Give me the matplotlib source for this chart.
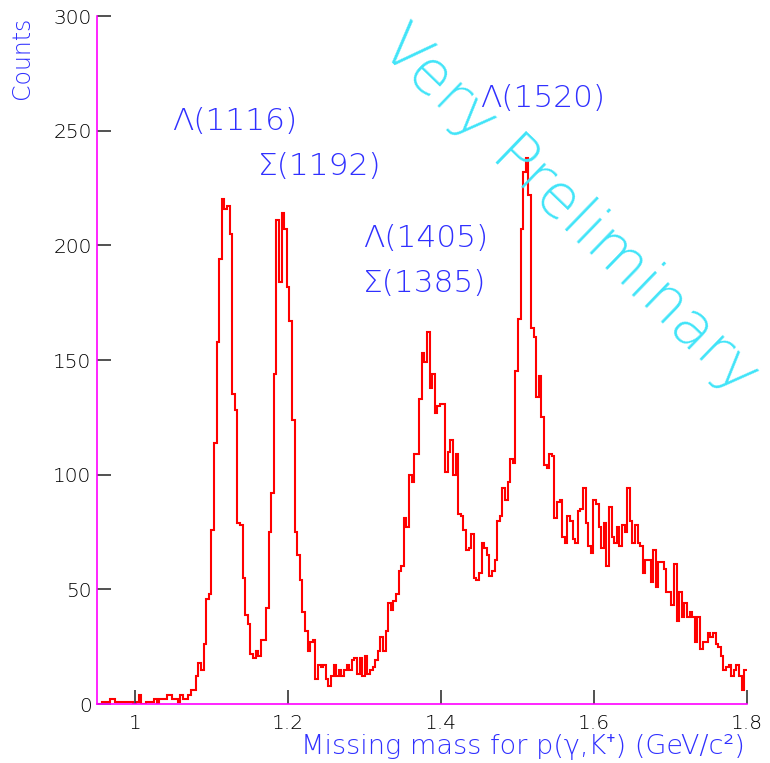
import numpy as np
import matplotlib
matplotlib.use('Agg')
import matplotlib.pyplot as plt

# missing mass histogram, 250 bins from 0.95 to 1.80 GeV
x_lo = 0.95
x_hi = 1.80
counts = [0, 0, 1, 1, 1, 2, 2, 1, 1, 1, 1, 1, 1, 1, 0, 1, 4, 0, 0, 1,
          1, 1, 2, 0, 2, 2, 2, 4, 4, 2, 2, 1, 4, 2, 2, 4, 6, 6, 12, 18,
          15, 26, 46, 48, 76, 114, 158, 194, 220, 216, 217, 205, 135, 128, 79, 78, 55, 39, 35, 22,
          20, 23, 21, 28, 28, 42, 75, 92, 144, 211, 184, 214, 207, 182, 167, 124, 75, 65, 54, 40,
          32, 23, 27, 28, 11, 17, 16, 17, 11, 8, 12, 17, 12, 15, 12, 15, 17, 15, 19, 20,
          13, 20, 12, 21, 13, 15, 16, 19, 23, 29, 23, 32, 44, 41, 45, 48, 58, 60, 81, 77,
          100, 97, 109, 109, 133, 153, 149, 162, 138, 144, 127, 130, 131, 131, 101, 110, 115, 100, 109, 83,
          82, 76, 67, 68, 74, 55, 54, 57, 70, 68, 65, 56, 58, 63, 80, 82, 94, 89, 97, 107,
          105, 145, 168, 207, 232, 238, 222, 164, 160, 134, 143, 125, 104, 103, 109, 108, 81, 88, 89, 73,
          70, 82, 80, 72, 70, 84, 85, 94, 79, 69, 66, 89, 87, 77, 68, 79, 60, 86, 73, 70,
          77, 69, 78, 75, 94, 80, 70, 78, 70, 69, 57, 63, 63, 53, 67, 51, 62, 62, 59, 49,
          49, 43, 61, 36, 49, 38, 44, 38, 40, 38, 27, 38, 24, 27, 27, 31, 29, 31, 26, 25,
          21, 15, 16, 17, 12, 15, 17, 12, 6, 15]

x_ticks = [1.0, 1.2, 1.4, 1.6, 1.8]
x_tick_labels = ['1', '1.2', '1.4', '1.6', '1.8']
y_ticks = [0, 50, 100, 150, 200, 250, 300]

peak_labels = ['\u039b(1116)', '\u03a3(1192)', '\u039b(1405)', '\u03a3(1385)', '\u039b(1520)']
peak_x = [1.048, 1.1605, 1.298, 1.298, 1.451]
peak_y = [254, 234.5, 203, 183.5, 264]

blue = '#3030ff'
cyan = '#40e4f8'
thin = 200
fams = ['DejaVu Sans', 'Noto Sans']

edges = np.linspace(x_lo, x_hi, len(counts) + 1)

fig = plt.figure(figsize=(7.7, 7.63), dpi=100)
ax = fig.add_axes([97.1 / 770, 59 / 763, 649.6 / 770, 688 / 763])

ax.stairs(counts, edges, color='red', lw=1.5, baseline=None)

ax.set_xlim(x_lo, x_hi)
ax.set_ylim(0, 300)
ax.set_xticks(x_ticks)
ax.set_xticklabels(x_tick_labels)
ax.set_yticks(y_ticks)

for s in ['top', 'right']:
    ax.spines[s].set_visible(False)
for s in ['left', 'bottom']:
    ax.spines[s].set_color('#ff00ff')
    ax.spines[s].set_linewidth(1.2)

ax.tick_params(direction='in', length=10, width=1.2, color='#333333',
               labelsize=14.6, labelcolor='black')
ax.tick_params(axis='x', pad=7)
ax.tick_params(axis='y', pad=4)
for t in ax.get_xticklabels() + ax.get_yticklabels():
    t.set_fontweight(thin)

for lab, px, py in zip(peak_labels, peak_x, peak_y):
    ax.text(px, py, lab, color=blue, fontsize=22.5, fontweight=thin,
            ha='left', va='center')

ax.text(1.568, 215, 'Very Preliminary', color=cyan, fontsize=44, fontweight=thin,
        rotation=-44, rotation_mode='anchor', ha='center', va='center')

fig.text(22 / 770, 1 - 17 / 763, 'Counts', color=blue, fontsize=17, fontweight=thin,
         rotation=90, ha='center', va='top')
fig.text(745 / 770, 1 - 747 / 763, 'Missing mass for p(\u03b3,K\u207a) (GeV/c\u00b2)',
         color=blue, fontsize=19.5, fontweight=thin, family=fams,
         ha='right', va='center')

fig.savefig('out.png', dpi=100)
